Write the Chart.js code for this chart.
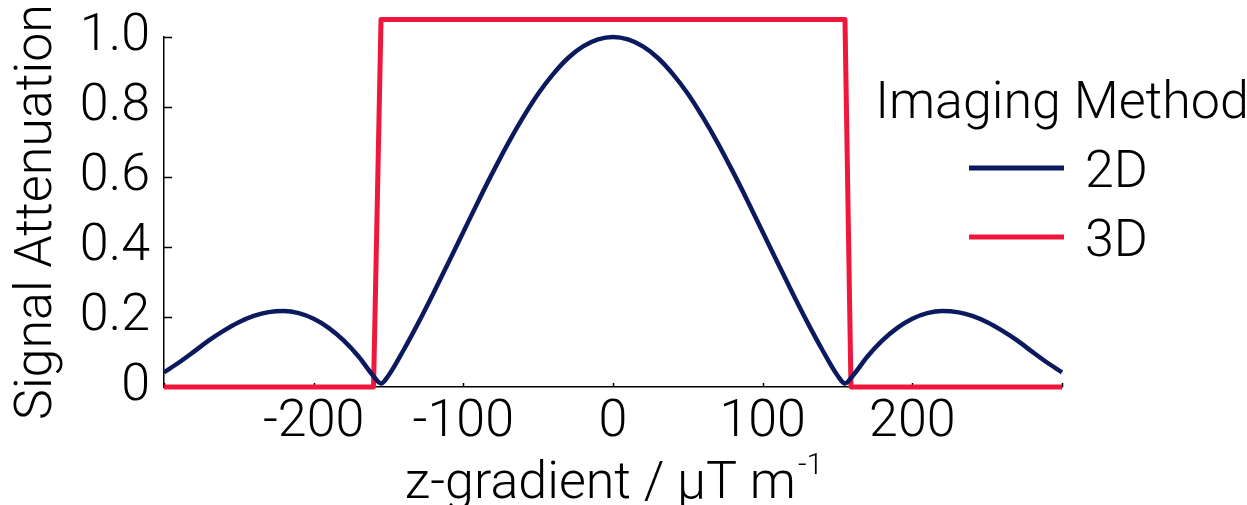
<!DOCTYPE html>
<html>
<head>
<meta charset="utf-8">
<script src="https://cdn.jsdelivr.net/npm/chart.js@4/dist/chart.umd.min.js"></script>
<style>
  html, body { margin: 0; padding: 0; background: #fff; }
  #wrap { width: 1247px; height: 505px; }
</style>
</head>
<body>
<div id="wrap"><canvas id="chart" width="1247" height="505"></canvas></div>
<script>
// values
const zGradient = [-300, -290, -280, -270, -260, -250, -240, -230, -220, -210, -200, -190, -180, -170, -160, -155,
  -150, -140, -130, -120, -110, -100, -90, -80, -70, -60, -50, -40, -30, -20, -10, 0,
  10, 20, 30, 40, 50, 60, 70, 80, 90, 100, 110, 120, 130, 140, 150,
  155, 160, 170, 180, 190, 200, 210, 220, 230, 240, 250, 260, 270, 280, 290, 300];
const atten2D = [0.042, 0.070, 0.101, 0.133, 0.161, 0.185, 0.203, 0.214, 0.217, 0.211, 0.195, 0.169, 0.133, 0.087, 0.031, 0.010,
  0.033, 0.105, 0.184, 0.268, 0.355, 0.443, 0.531, 0.616, 0.697, 0.771, 0.838, 0.894, 0.940, 0.973, 0.993, 1.000,
  0.993, 0.973, 0.940, 0.894, 0.838, 0.771, 0.697, 0.616, 0.531, 0.443, 0.355, 0.268, 0.184, 0.105, 0.033,
  0.010, 0.031, 0.087, 0.133, 0.169, 0.195, 0.211, 0.217, 0.214, 0.203, 0.185, 0.161, 0.133, 0.101, 0.070, 0.042];
const zGradient3D = [-300, -160, -155, 155, 159, 300];
const atten3D = [0, 0, 1.05, 1.05, 0, 0];

const seriesLabels = ['2D', '3D'];
const seriesColors = ['#0b1a5e', '#f0173d'];
const yTickValues = [0, 0.2, 0.4, 0.6, 0.8, 1.0];

const FONT = 'Roboto';
const FW = 300;
const FS = 52;

const toPoints = (xs, ys) => xs.map((x, i) => ({ x: x, y: ys[i] }));

// inward tick marks, legend and x title with superscript
const extras = {
  id: 'extras',
  beforeDatasetsDraw(chart) {
    const ctx = chart.ctx;
    const xs = chart.scales.x, ys = chart.scales.y;
    ctx.save();
    ctx.strokeStyle = '#000';
    ctx.lineWidth = 1.5;
    ctx.beginPath();
    xs.ticks.forEach(t => {
      const px = Math.round(xs.getPixelForValue(t.value)) + 0.5;
      ctx.moveTo(px, ys.bottom);
      ctx.lineTo(px, ys.bottom - 4);
    });
    ys.ticks.forEach(t => {
      const py = Math.round(ys.getPixelForValue(t.value)) + 0.5;
      ctx.moveTo(xs.left, py);
      ctx.lineTo(xs.left + 8, py);
    });
    ctx.stroke();
    ctx.restore();
  },
  afterDraw(chart) {
    const ctx = chart.ctx;
    const area = chart.chartArea;
    ctx.save();
    ctx.fillStyle = '#000';
    ctx.font = `${FW} ${FS}px ${FONT}`;
    ctx.textBaseline = 'alphabetic';

    // legend
    ctx.textAlign = 'center';
    ctx.fillText('Imaging Method', 1062, 118);
    ctx.textAlign = 'left';
    const rows = [168, 237];
    chart.data.datasets.forEach((ds, i) => {
      ctx.strokeStyle = ds.borderColor;
      ctx.lineWidth = 5;
      ctx.beginPath();
      ctx.moveTo(969, rows[i]);
      ctx.lineTo(1064, rows[i]);
      ctx.stroke();
      ctx.fillText(ds.label, 1085, rows[i] + 19);
    });

    // x axis title
    const main = 'z-gradient / μT m';
    const sup = '-1';
    const supFont = `${FW} 30px ${FONT}`;
    const wMain = ctx.measureText(main).width;
    ctx.font = supFont;
    const wSup = ctx.measureText(sup).width;
    const cx = (area.left + area.right) / 2;
    const x0 = cx - (wMain + wSup) / 2;
    ctx.font = `${FW} ${FS}px ${FONT}`;
    ctx.fillText(main, x0, 498);
    ctx.font = supFont;
    ctx.fillText(sup, x0 + wMain + 2, 474);
    ctx.restore();
  }
};

new Chart(document.getElementById('chart'), {
  type: 'line',
  data: {
    datasets: [
      {
        label: seriesLabels[0],
        data: toPoints(zGradient, atten2D),
        borderColor: seriesColors[0],
        borderWidth: 4.5,
        pointRadius: 0,
        cubicInterpolationMode: 'monotone',
        clip: false
      },
      {
        label: seriesLabels[1],
        data: toPoints(zGradient3D, atten3D),
        borderColor: seriesColors[1],
        borderWidth: 5,
        pointRadius: 0,
        tension: 0,
        borderJoinStyle: 'round',
        clip: false
      }
    ]
  },
  options: {
    responsive: false,
    animation: false,
    layout: { padding: { top: 37, right: 185, left: 0, bottom: 0 } },
    plugins: { legend: { display: false }, tooltip: { enabled: false } },
    scales: {
      x: {
        type: 'linear',
        min: -300,
        max: 300,
        afterFit: s => { s.height = 118; },
        grid: { display: false, drawTicks: false },
        border: { display: true, color: '#000', width: 1.5 },
        ticks: {
          stepSize: 100,
          padding: 5,
          maxRotation: 0,
          color: '#000',
          font: { family: FONT, size: FS, weight: FW, lineHeight: 1.2 },
          callback: v => Math.abs(v) === 300 ? '' : String(v)
        }
      },
      y: {
        min: 0,
        max: 1,
        afterFit: s => { s.width = 164; s.paddingTop = 0; s.paddingBottom = 0; },
        afterBuildTicks: s => { s.ticks = yTickValues.map(v => ({ value: v })); },
        grid: { display: false, drawTicks: false },
        border: { display: true, color: '#000', width: 1.5 },
        ticks: {
          padding: 14,
          color: '#000',
          font: { family: FONT, size: FS, weight: FW, lineHeight: 1 },
          callback: v => v === 0 ? '0' : v.toFixed(1)
        },
        title: {
          display: true,
          text: 'Signal Attenuation',
          color: '#000',
          padding: { top: 12, bottom: 0 },
          font: { family: FONT, size: FS, weight: FW, lineHeight: 1 }
        }
      }
    }
  },
  plugins: [extras]
});
</script>
</body>
</html>
